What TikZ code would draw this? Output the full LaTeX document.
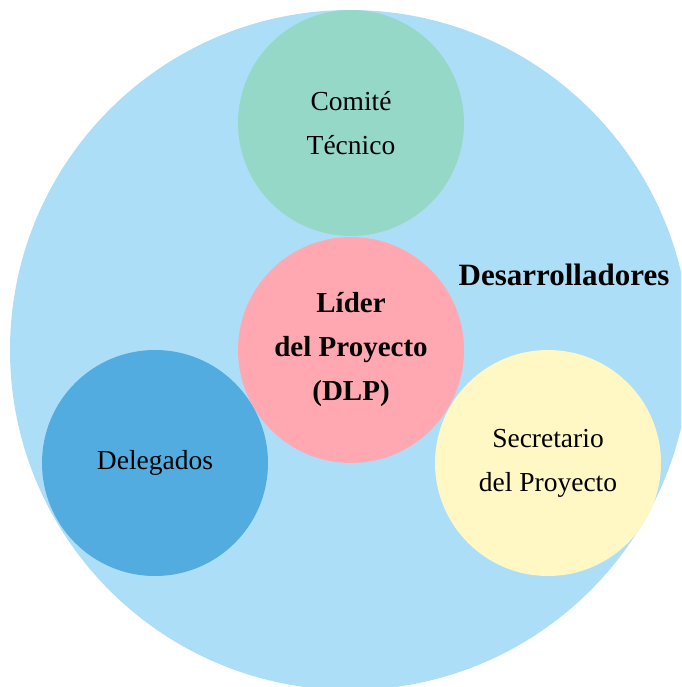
\documentclass[tikz,border=0pt]{standalone}
\usepackage{fontspec}
\setmainfont{Liberation Serif}
\definecolor{devblue}{RGB}{173, 222, 247}
\definecolor{comitegreen}{RGB}{150, 216, 200}
\definecolor{liderpink}{RGB}{255, 168, 178}
\definecolor{delegblue}{RGB}{82, 172, 224}
\definecolor{secyellow}{RGB}{255, 247, 196}
\usetikzlibrary{positioning}
\tikzset{
  role/.style={circle, minimum size=226pt, inner sep=0pt, align=center,
    font=\fontsize{27.5}{44}\selectfont}
}

\begin{document}
\begin{tikzpicture}[x=1pt, y=-1pt]
  \useasboundingbox (0,0) rectangle (681,687);
  \clip (0,0) rectangle (681,687);
  \fill[devblue] (350,350) circle (340pt);
  \node[font=\fontsize{31}{44}\selectfont\bfseries] (devs) at (564,275) {Desarrolladores};

  \node[role, fill=comitegreen] (comite) at (351,123) {Comité\\Técnico};
  \node[role, fill=liderpink, font=\fontsize{29}{44}\selectfont\bfseries] (lider) at (351,350) {Líder\\del Proyecto\\(DLP)};
  \node[role, fill=delegblue] (delegados) at (155,463) {Delegados};
  \node[role, fill=secyellow] (secretario) at (548,463) {Secretario\\del Proyecto};
\end{tikzpicture}
\end{document}
